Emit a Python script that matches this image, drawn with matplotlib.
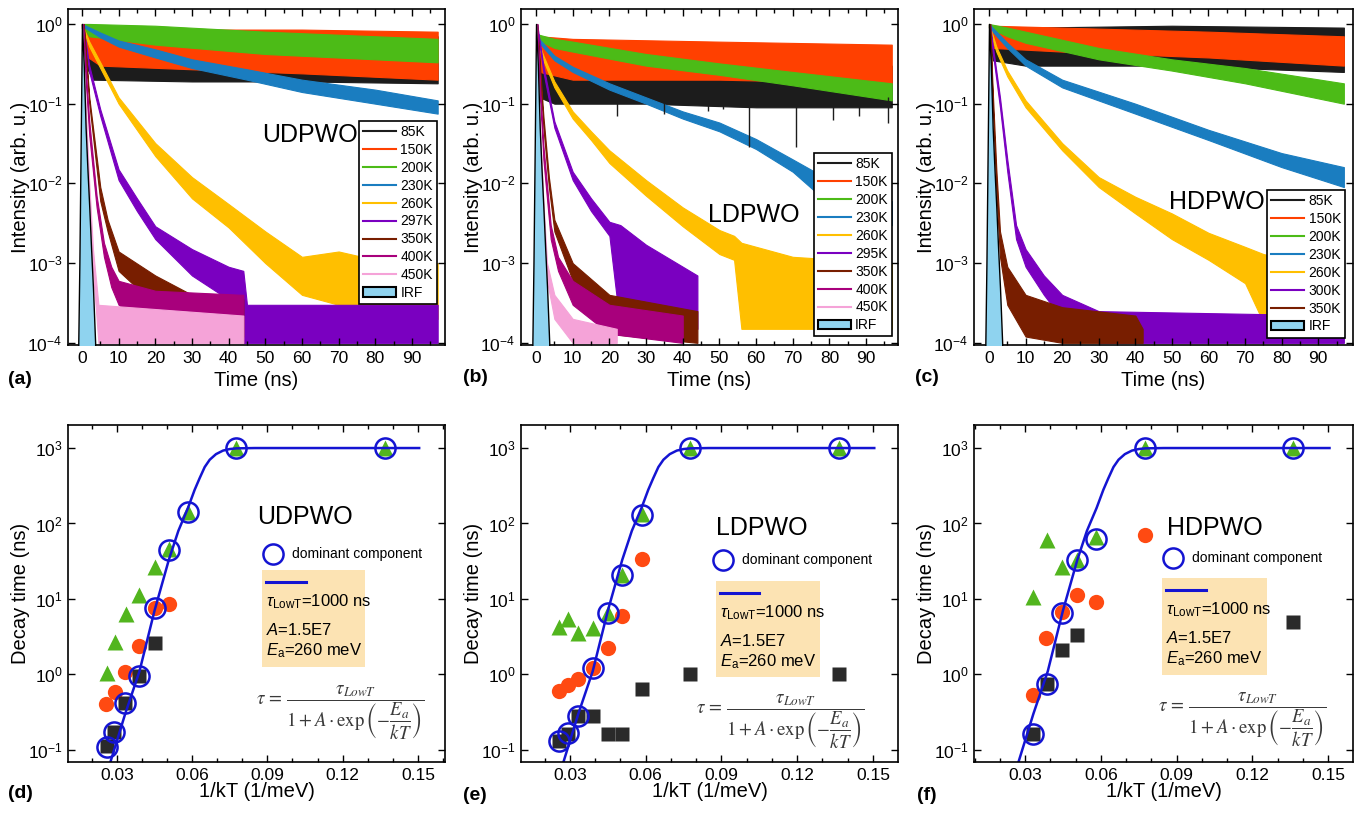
import numpy as np
import matplotlib
matplotlib.use("Agg")
import matplotlib.pyplot as plt
from matplotlib.ticker import MultipleLocator, NullLocator
from matplotlib.lines import Line2D
from matplotlib.patches import Patch, Rectangle

plt.rcParams['font.family'] = ['Liberation Sans', 'DejaVu Sans']
plt.rcParams['mathtext.fontset'] = 'custom'
plt.rcParams['mathtext.rm'] = 'Liberation Sans'
plt.rcParams['mathtext.it'] = 'Liberation Sans:italic'
plt.rcParams['mathtext.bf'] = 'Liberation Sans:bold'
plt.rcParams['axes.unicode_minus'] = False

# ---------------- decay curves: (time ns, lower edge, upper edge of the noisy trace)
# UDPWO
ud_85 = [(0, 0.9, 1.0), (1, 0.3, 0.9), (3, 0.2, 0.8), (30, 0.19, 0.75), (60, 0.19, 0.75), (97, 0.18, 0.7)]
ud_150 = [(0, 0.9, 1.0), (1, 0.4, 0.9), (5, 0.3, 0.85), (30, 0.27, 0.85), (60, 0.24, 0.85), (97, 0.2, 0.8)]
ud_200 = [(0, 0.95, 1.0), (2, 0.7, 1.0), (20, 0.55, 0.95), (50, 0.42, 0.8), (97, 0.33, 0.65)]
ud_230 = [(0, 0.95, 1.0), (5, 0.68, 0.78), (10, 0.52, 0.62), (20, 0.38, 0.48), (30, 0.28, 0.36),
          (45, 0.2, 0.27), (60, 0.14, 0.2), (80, 0.1, 0.15), (97, 0.075, 0.11)]
ud_260 = [(0, 0.95, 1.0), (2, 0.52, 0.6), (5, 0.28, 0.33), (10, 0.1, 0.12), (20, 0.022, 0.032),
          (30, 0.0065, 0.012), (40, 0.0028, 0.0055), (50, 0.001, 0.0025), (60, 0.0004, 0.0012),
          (70, 0.0003, 0.0014), (80, 0.0002, 0.0011), (97, 0.0002, 0.001)]
ud_297 = [(0.3, 0.9, 1.0), (2, 0.25, 0.3), (5, 0.07, 0.085), (10, 0.011, 0.015), (15, 0.0045, 0.0065),
          (20, 0.002, 0.0029), (30, 0.0007, 0.0015), (40, 0.00035, 0.0009), (44, 0.0001, 0.0008),
          (45, 0.0001, 0.0003), (97, 0.0001, 0.0003)]
ud_350 = [(0.5, 0.9, 1.0), (2, 0.1, 0.12), (5, 0.006, 0.009), (7, 0.0025, 0.0035), (10, 0.0008, 0.0014),
          (20, 0.0003, 0.0007), (30, 0.00015, 0.0004), (44, 0.00012, 0.00035)]
ud_400 = [(0.3, 0.9, 1.0), (1, 0.2, 0.3), (2, 0.04, 0.06), (4, 0.005, 0.007), (6, 0.0012, 0.0018),
          (8, 0.0005, 0.0009), (10, 0.0003, 0.0006), (20, 0.00015, 0.00045), (44, 0.0001, 0.0004)]
ud_450 = [(0, 0.9, 1.0), (1, 0.05, 0.1), (2, 0.006, 0.01), (3, 0.0008, 0.0015), (4.5, 0.0001, 0.0003),
          (44, 0.0001, 0.00022)]

# LDPWO
ld_85 = [(0, 0.6, 0.8), (1, 0.12, 0.5), (5, 0.1, 0.35), (30, 0.1, 0.3), (60, 0.09, 0.3), (97, 0.09, 0.3)]
ld_85_spikes = [(22, 0.07), (35, 0.075), (47, 0.08), (51, 0.085), (58, 0.029), (71, 0.029),
                (81, 0.063), (88, 0.07), (96, 0.057)]
ld_150 = [(0, 0.6, 0.8), (1, 0.25, 0.7), (10, 0.2, 0.65), (50, 0.2, 0.6), (97, 0.18, 0.55)]
ld_200 = [(0, 0.65, 0.75), (5, 0.5, 0.65), (10, 0.45, 0.6), (30, 0.3, 0.42), (50, 0.23, 0.32),
          (70, 0.17, 0.25), (97, 0.11, 0.18)]
ld_230 = [(0, 0.65, 0.72), (5, 0.35, 0.4), (10, 0.25, 0.29), (20, 0.15, 0.18), (30, 0.1, 0.12),
          (40, 0.065, 0.08), (50, 0.045, 0.058), (60, 0.027, 0.036), (70, 0.014, 0.02),
          (76, 0.008, 0.014), (97, 0.003, 0.006)]
ld_260 = [(0, 0.65, 0.72), (2, 0.35, 0.4), (5, 0.16, 0.19), (10, 0.065, 0.08), (15, 0.035, 0.045),
          (20, 0.018, 0.026), (30, 0.007, 0.011), (40, 0.0029, 0.005), (50, 0.0013, 0.0026),
          (54, 0.0011, 0.0022), (56, 0.00015, 0.0018), (70, 0.00015, 0.0012), (97, 0.00015, 0.001)]
ld_295 = [(0.3, 0.9, 1.0), (2, 0.25, 0.3), (5, 0.05, 0.06), (10, 0.011, 0.014), (15, 0.0045, 0.0065),
          (20, 0.0022, 0.0033), (23, 0.00015, 0.003), (30, 0.00015, 0.0017), (44, 0.00015, 0.0007)]
ld_350 = [(0.3, 0.9, 1.0), (2, 0.05, 0.07), (3.5, 0.009, 0.012), (5, 0.0025, 0.0035),
          (10, 0.0006, 0.001), (20, 0.00013, 0.0004), (44, 0.0001, 0.00025)]
ld_400 = [(0.3, 0.9, 1.0), (1, 0.15, 0.2), (2, 0.02, 0.03), (4, 0.002, 0.003), (6, 0.0008, 0.0012),
          (10, 0.0003, 0.0006), (20, 0.00013, 0.0003), (40, 0.0001, 0.00022)]
ld_450 = [(0, 0.9, 1.0), (1, 0.03, 0.06), (2, 0.003, 0.006), (3, 0.0006, 0.001), (5, 0.0002, 0.0004),
          (10, 0.0001, 0.0002), (22, 0.0001, 0.00015)]

# HDPWO
hd_85 = [(0, 0.9, 1.0), (1, 0.35, 0.9), (10, 0.3, 0.9), (50, 0.3, 0.95), (97, 0.25, 0.9)]
hd_150 = [(0, 0.9, 1.0), (1, 0.5, 0.95), (20, 0.45, 0.9), (60, 0.38, 0.8), (97, 0.3, 0.7)]
hd_200 = [(0, 0.9, 1.0), (5, 0.7, 0.9), (10, 0.58, 0.8), (30, 0.36, 0.5), (50, 0.26, 0.36),
          (70, 0.18, 0.28), (97, 0.1, 0.18)]
hd_230 = [(0, 0.9, 1.0), (5, 0.5, 0.58), (10, 0.3, 0.36), (20, 0.16, 0.2), (40, 0.075, 0.1),
          (60, 0.035, 0.047), (80, 0.016, 0.024), (97, 0.009, 0.016)]
hd_260 = [(0, 0.9, 1.0), (2, 0.45, 0.52), (5, 0.22, 0.26), (10, 0.09, 0.11), (20, 0.026, 0.032),
          (30, 0.009, 0.012), (40, 0.0042, 0.0068), (50, 0.002, 0.0042), (60, 0.0011, 0.0024),
          (70, 0.00056, 0.0016), (75, 0.00018, 0.0013), (97, 0.00018, 0.0008)]
hd_300 = [(0.3, 0.9, 1.0), (1, 0.45, 0.55), (3, 0.09, 0.12), (5, 0.014, 0.02), (7.4, 0.002, 0.003),
          (10, 0.0009, 0.0015), (15, 0.0004, 0.0007), (20, 0.0002, 0.0004), (30, 0.0001, 0.00025),
          (97, 0.0001, 0.00022)]
hd_350 = [(0.3, 0.9, 1.0), (1, 0.1, 0.15), (2, 0.008, 0.015), (3, 0.0012, 0.0025), (5, 0.0003, 0.0009),
          (10, 0.00012, 0.0004), (20, 0.0001, 0.00028), (40, 0.0001, 0.00022), (42, 0.0001, 0.00015)]

# instrument response function
irf_t = [-1.0, -0.7, -0.3, 0.0, 0.5, 1.0, 1.5, 2.0, 2.5, 3.0, 3.6]
irf_y = [1e-4, 1e-3, 0.05, 1.0, 0.3, 0.05, 0.015, 0.005, 0.0015, 0.0005, 1e-4]

ud_labels = ["85K", "150K", "200K", "230K", "260K", "297K", "350K", "400K", "450K", "IRF"]
ld_labels = ["85K", "150K", "200K", "230K", "260K", "295K", "350K", "400K", "450K", "IRF"]
hd_labels = ["85K", "150K", "200K", "230K", "260K", "300K", "350K", "IRF"]

# ---------------- decay time vs 1/kT: (1/kT, tau)
ud_tri = [(0.026, 1.03), (0.0293, 2.7), (0.0335, 6.4), (0.039, 11.3), (0.045, 26.7), (0.0507, 46.6),
          (0.0583, 142), (0.0776, 1000), (0.1367, 1000)]
ud_circ = [(0.0257, 0.41), (0.0293, 0.59), (0.0333, 1.09), (0.039, 2.38), (0.045, 7.7), (0.0507, 8.5)]
ud_sq = [(0.026, 0.114), (0.029, 0.175), (0.0333, 0.42), (0.039, 0.95), (0.045, 2.63)]
ud_dom = [(0.026, 0.11), (0.029, 0.175), (0.0333, 0.42), (0.039, 0.95), (0.045, 7.7), (0.0507, 45),
          (0.0583, 142), (0.0776, 1000), (0.1367, 1000)]

ld_tri = [(0.0256, 4.3), (0.0293, 5.5), (0.0333, 3.5), (0.0392, 4.1), (0.0452, 6.6), (0.0507, 21),
          (0.0584, 135), (0.0775, 1000), (0.1364, 1000)]
ld_circ = [(0.0256, 0.61), (0.0293, 0.72), (0.0333, 0.86), (0.0392, 1.2), (0.0452, 2.26),
           (0.0507, 5.9), (0.0584, 34)]
ld_sq = [(0.0256, 0.13), (0.0293, 0.16), (0.0333, 0.28), (0.0392, 0.28), (0.0452, 0.16),
         (0.0507, 0.16), (0.0584, 0.65), (0.0775, 1.0), (0.1364, 1.0)]
ld_dom = [(0.0256, 0.13), (0.0293, 0.165), (0.0333, 0.28), (0.0392, 1.2), (0.0452, 6.6),
          (0.0507, 20.8), (0.0584, 131), (0.0775, 1000), (0.1364, 1000)]

hd_tri = [(0.0333, 10.7), (0.0386, 60), (0.0445, 26.7), (0.0504, 32.7), (0.0581, 66.5),
          (0.0775, 1000), (0.1362, 1000)]
hd_circ = [(0.033, 0.53), (0.0383, 3.0), (0.0445, 6.8), (0.0504, 11.2), (0.0581, 9.2), (0.0775, 70)]
hd_sq = [(0.0333, 0.163), (0.0386, 0.74), (0.0445, 2.1), (0.0504, 3.3), (0.1362, 5.0)]
hd_dom = [(0.0333, 0.163), (0.0386, 0.74), (0.0445, 6.6), (0.0504, 32.7), (0.0581, 63),
          (0.0775, 1000), (0.1362, 1000)]

# fitted curve as it appears in the panels
fit_x = [0.0265, 0.0333, 0.039, 0.045, 0.0507, 0.0545, 0.0583, 0.061, 0.063, 0.065, 0.067, 0.0695,
         0.0723, 0.075, 0.0776, 0.085, 0.1505]
fit_tau = [0.055, 0.3, 1.1, 7.0, 33, 80, 160, 280, 400, 560, 700, 830, 925, 970, 990, 1000, 1000]

# ---------------- colours
c_temp = {"85K": "#1c1c1c", "150K": "#ff4000", "200K": "#4cbb17", "230K": "#1a7dc0",
          "260K": "#ffbf00", "297K": "#7a00c0", "295K": "#7a00c0", "300K": "#7a00c0",
          "350K": "#781e00", "400K": "#a8007c", "450K": "#f5a3d8"}
irf_color = "#8fd3ef"
green, red, grey, blue = "#52b51e", "#ff4a12", "#2a2a2a", "#1414d2"
box_color = "#fce3b3"

W, H = 1367, 814
fig = plt.figure(figsize=(W / 100, H / 100), dpi=100)


def rect(l, t, r, b):
    return [l / W, 1 - b / H, (r - l) / W, (b - t) / H]


def style(ax):
    ax.tick_params(which='both', direction='in', top=True, right=True, width=1, labelsize=12.5)
    ax.tick_params(which='major', length=5, pad=4)
    ax.tick_params(which='minor', length=3)
    for s in ax.spines.values():
        s.set_linewidth(1.2)


def decay_panel(ax, curves, labels, xlim, name, name_xy, name_ha, leg_anchor, spikes=None):
    for data, lab in zip(curves, labels):
        c = c_temp[lab]
        t = [p[0] for p in data]
        lo = [p[1] for p in data]
        hi = [p[2] for p in data]
        ax.fill_between(t, lo, hi, facecolor=c, edgecolor=c, lw=0.8)
        if lab == "85K" and spikes is not None:
            ax.vlines([s[0] for s in spikes], [s[1] for s in spikes], 0.12, color=c, lw=1)
    ax.fill_between(irf_t, 1e-5, irf_y, facecolor=irf_color, edgecolor='black', lw=1, zorder=5)
    ax.set_yscale('log')
    ax.set_ylim(9.4e-5, 1.54)
    ax.set_xlim(*xlim)
    ax.xaxis.set_major_locator(MultipleLocator(10))
    ax.xaxis.set_minor_locator(MultipleLocator(5))
    ax.yaxis.set_minor_locator(NullLocator())
    style(ax)
    ax.set_xlabel("Time (ns)", fontsize=14.5)
    ax.set_ylabel("Intensity (arb. u.)", fontsize=14.5)
    ax.xaxis.set_label_coords(0.5, -0.078)
    ax.yaxis.set_label_coords(-0.1, 0.5)
    ax.text(name_xy[0], name_xy[1], name, transform=ax.transAxes, fontsize=18, ha=name_ha, va='center')
    handles = [Line2D([], [], color=c_temp[l], lw=1.5) for l in labels]
    handles.append(Patch(facecolor=irf_color, edgecolor='black', lw=1.5))
    leg = ax.legend(handles, labels + ["IRF"], loc='upper right', bbox_to_anchor=leg_anchor,
                    borderaxespad=0, fancybox=False, edgecolor='black', framealpha=1, fontsize=10,
                    handlelength=2.4, handletextpad=0.3, labelspacing=0.28, borderpad=0.3)
    leg.get_frame().set_linewidth(1.2)
    leg.set_zorder(10)


def tau_panel(ax, tri, circ, sq, dom, xlim, name, pos):
    ax.plot([p[0] for p in tri], [p[1] for p in tri], '^', color=green, ms=12, mec='none')
    ax.plot([p[0] for p in circ], [p[1] for p in circ], 'o', color=red, ms=11, mec='none')
    ax.plot([p[0] for p in sq], [p[1] for p in sq], 's', color=grey, ms=9.5, mec='none')
    ax.plot([p[0] for p in dom], [p[1] for p in dom], 'o', mfc='none', mec=blue, ms=14.5, mew=1.8)
    ax.plot(fit_x, fit_tau, color=blue, lw=1.8)
    ax.set_yscale('log')
    ax.set_ylim(0.069, 2020)
    ax.set_xlim(*xlim)
    ax.xaxis.set_major_locator(MultipleLocator(0.03))
    ax.xaxis.set_minor_locator(MultipleLocator(0.01))
    ax.yaxis.set_minor_locator(NullLocator())
    style(ax)
    ax.set_xlabel("1/kT (1/meV)", fontsize=14.5)
    ax.set_ylabel("Decay time (ns)", fontsize=14.5)
    ax.xaxis.set_label_coords(0.5, -0.058)
    ax.yaxis.set_label_coords(-0.1, 0.5)
    tr = ax.transAxes
    ax.text(pos["name"][0], pos["name"][1], name, transform=tr, fontsize=18, ha='center', va='center')
    ax.plot([pos["dom"][0]], [pos["dom"][1]], 'o', transform=tr, mfc='none', mec=blue, ms=14.5,
            mew=1.8, clip_on=False)
    ax.text(pos["dom"][0] + 0.05, pos["dom"][1], "dominant component", transform=tr, fontsize=10,
            va='center')
    bx = pos["box"]
    ax.add_patch(Rectangle((bx[0], bx[1]), bx[2] - bx[0], bx[3] - bx[1], transform=tr,
                           facecolor=box_color, edgecolor='none', zorder=1))
    lx = bx[0] + 0.01
    ax.plot([lx, lx + 0.105], [bx[3] - 0.035, bx[3] - 0.035], transform=tr, color=blue, lw=2.2)
    ax.text(lx, bx[3] - 0.095, r"$\tau_{\mathrm{LowT}}$=1000 ns", transform=tr, fontsize=12, va='center')
    ax.text(lx, bx[3] - 0.178, r"$A$=1.5E7", transform=tr, fontsize=12, va='center')
    ax.text(lx, bx[3] - 0.24, r"$E_{\mathrm{a}}$=260 meV", transform=tr, fontsize=12, va='center')
    ax.text(pos["eq"][0], pos["eq"][1],
            r"$\tau\,=\,\dfrac{\tau_{LowT}}{1+A\cdot\exp\left(-\dfrac{E_a}{kT}\right)}$",
            transform=tr, fontsize=13.5, ha='center', va='center', color='#3a3a3a',
            math_fontfamily='stix')


ax_a = fig.add_axes(rect(68, 9, 445, 345))
decay_panel(ax_a, [ud_85, ud_150, ud_200, ud_230, ud_260, ud_297, ud_350, ud_400, ud_450],
            ud_labels[:-1], (-3.8, 99), "UDPWO", (0.77, 0.625), 'right', (0.979, 0.667))
ax_b = fig.add_axes(rect(521, 9, 898, 345))
decay_panel(ax_b, [ld_85, ld_150, ld_200, ld_230, ld_260, ld_295, ld_350, ld_400, ld_450],
            ld_labels[:-1], (-4.1, 98.7), "LDPWO", (0.618, 0.387), 'center', (0.984, 0.571),
            spikes=ld_85_spikes)
ax_c = fig.add_axes(rect(974, 9, 1353, 345))
decay_panel(ax_c, [hd_85, hd_150, hd_200, hd_230, hd_260, hd_300, hd_350],
            hd_labels[:-1], (-4.1, 99.5), "HDPWO", (0.768, 0.426), 'right', (0.98, 0.461))

ax_d = fig.add_axes(rect(68, 425, 445, 762))
tau_panel(ax_d, ud_tri, ud_circ, ud_sq, ud_dom, (0.0105, 0.1608), "UDPWO",
          {"name": (0.629, 0.727), "dom": (0.544, 0.617), "box": (0.515, 0.282, 0.788, 0.570),
           "eq": (0.721, 0.145)})
ax_e = fig.add_axes(rect(521, 425, 898, 762))
tau_panel(ax_e, ld_tri, ld_circ, ld_sq, ld_dom, (0.0106, 0.1599), "LDPWO",
          {"name": (0.64, 0.694), "dom": (0.536, 0.60), "box": (0.517, 0.252, 0.793, 0.537),
           "eq": (0.687, 0.119)})
ax_f = fig.add_axes(rect(974, 425, 1353, 762))
tau_panel(ax_f, hd_tri, hd_circ, hd_sq, hd_dom, (0.0098, 0.1598), "HDPWO",
          {"name": (0.636, 0.694), "dom": (0.525, 0.605), "box": (0.496, 0.258, 0.773, 0.546),
           "eq": (0.707, 0.125)})

for lab, x, y in [("(a)", 8, 380), ("(b)", 463, 377), ("(c)", 915, 378),
                  ("(d)", 8, 793), ("(e)", 463, 795), ("(f)", 917, 795)]:
    fig.text(x / W, 1 - y / H, lab, fontsize=14, fontweight='bold', va='center')

fig.savefig("out.png", dpi=100)
